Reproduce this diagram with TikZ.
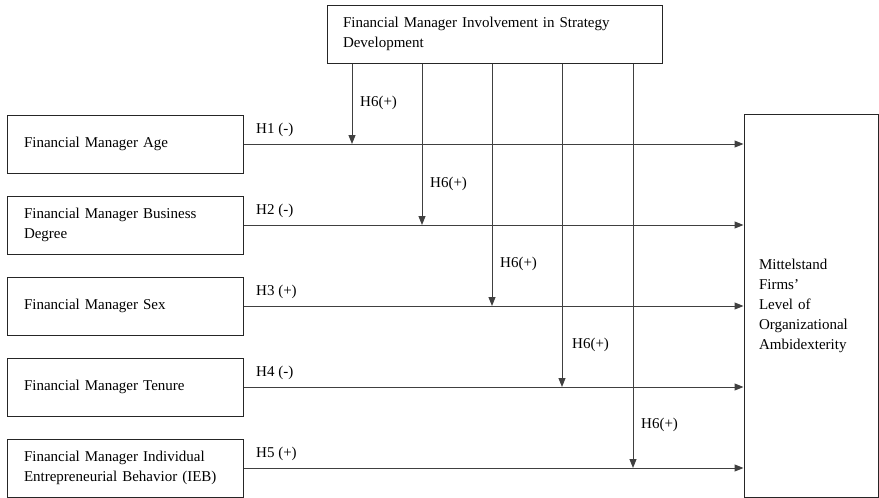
\documentclass[tikz,border=0pt]{standalone}
\usepackage{fontspec}
\setmainfont{Liberation Serif}
\usetikzlibrary{arrows.meta,calc}
\begin{document}
\begin{tikzpicture}[x=1pt,y=-1pt,
  box/.style={draw=black!85,line width=1pt,rectangle,inner sep=0pt,
    font=\fontsize{15}{20}\selectfont,align=left},
  lbox/.style={box,minimum width=236pt,minimum height=58pt,text width=202pt},
  arr/.style={draw=black!75,line width=1pt,-{Triangle[length=9pt,width=7pt]}},
  lab/.style={font=\fontsize{15}{18}\selectfont,anchor=west,inner sep=0pt}]
\useasboundingbox (0,0) rectangle (879,498);
% top moderator box
\node[box,minimum width=335pt,minimum height=58pt,text width=303pt] (top) at (494.5,34)
  {Financial Manager Involvement in Strategy\\Development};
% left boxes
\node[lbox] (b1) at (125,144) {Financial Manager Age};
\node[lbox] (b2) at (125,225) {Financial Manager Business\\Degree};
\node[lbox] (b3) at (125,306) {Financial Manager Sex};
\node[lbox] (b4) at (125,387) {Financial Manager Tenure};
\node[lbox] (b5) at (125,468) {Financial Manager Individual\\Entrepreneurial Behavior (IEB)};
% outcome box
\node[box,minimum width=134pt,minimum height=383pt,text width=104pt] (out) at (811,305.5)
  {Mittelstand\\Firms'\\Level of\\Organizational\\Ambidexterity};
% main arrows
\foreach \i in {1,...,5}{
  \draw[arr] (b\i.east) -- (b\i.east -| out.west);
}
% moderator arrow end points
\coordinate (m1) at (352,144);
\coordinate (m2) at (422,225);
\coordinate (m3) at (492,306);
\coordinate (m4) at (562,387);
\coordinate (m5) at (633,468);
\foreach \i in {1,...,5}{
  \draw[arr] (top.south -| m\i) -- (m\i);
}
% labels
\node[lab] (h1) at (256,130) {H1 (-)};
\node[lab] (h2) at (256,211) {H2 (-)};
\node[lab] (h3) at (256,292) {H3 (+)};
\node[lab] (h4) at (256,373) {H4 (-)};
\node[lab] (h5) at (256,454) {H5 (+)};
\node[lab] (g1) at (360,103) {H6(+)};
\node[lab] (g2) at (430,184) {H6(+)};
\node[lab] (g3) at (500,264) {H6(+)};
\node[lab] (g4) at (572,345) {H6(+)};
\node[lab] (g5) at (641,425) {H6(+)};
\end{tikzpicture}
\end{document}
